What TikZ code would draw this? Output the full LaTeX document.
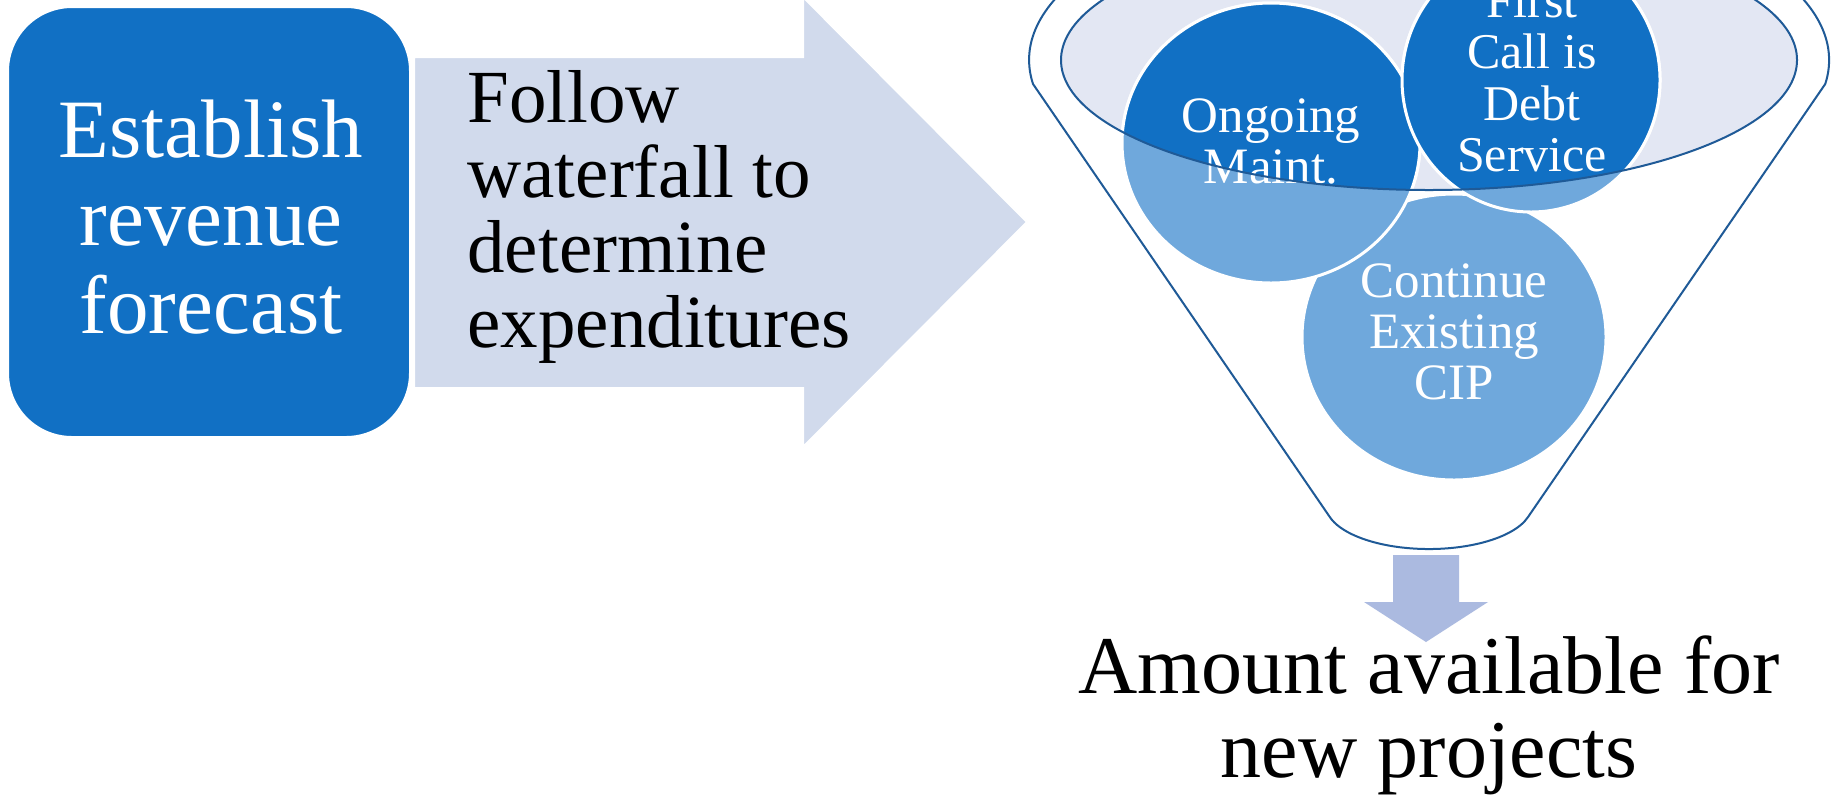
\documentclass[tikz,border=0pt]{standalone}
\usepackage{fontspec}
\setmainfont{Liberation Serif}
\definecolor{boxblue}{HTML}{1170C4}
\definecolor{arrowfill}{HTML}{D1DAEC}
\definecolor{rimfill}{HTML}{E3E7F3}
\definecolor{lightblue}{HTML}{6FA8DC}
\definecolor{funnelline}{HTML}{1F5A97}
\definecolor{downarrow}{HTML}{ABBAE0}
\begin{document}
\begin{tikzpicture}[x=0.5pt,y=-0.5pt,
  wtext/.style={text=white, inner sep=0pt, anchor=base},
  btext/.style={text=black, inner sep=0pt},
  circ/.style={draw=white, line width=1.5pt},
  fline/.style={draw=funnelline, line width=1pt}]
\useasboundingbox (0,0) rectangle (1839,794);
\fill[white] (0,0) rectangle (1839,794);
% right block arrow
\path[fill=arrowfill, draw=white, line width=1pt] (414,57) -- (803,57) -- (803,-3) -- (1027,222) -- (803,447) -- (803,388) -- (414,388) -- cycle;
% blue rounded box
\path[fill=boxblue, draw=white, line width=1pt, rounded corners=32pt] (8,7) rectangle (410,437);
\node[wtext] (establish) at (211,157) {\fontsize{41.5}{44}\selectfont\begin{tabular}[t]{@{}c@{}}Establish\\revenue\\forecast\end{tabular}};
\node[btext, anchor=base west] (follow) at (467,122) {\fontsize{37.5}{37.5}\selectfont\begin{tabular}[t]{@{}l@{}}Follow\\waterfall to\\determine\\expenditures\end{tabular}};
% funnel body
\path[fline, fill=white] (1033,84) arc[start angle=172, end angle=368, x radius=400, y radius=172] -- (1528,517) arc[start angle=15.8, end angle=164.2, x radius=103, y radius=44] -- cycle;
\fill[rimfill] (1429,60) ellipse[x radius=368, y radius=130];
% circles (light, below rim)
\path[fill=lightblue, circ] (1454,337) ellipse[x radius=152, y radius=143];
\path[fill=lightblue, circ] (1271,143) ellipse[x radius=149, y radius=140];
\path[fill=lightblue, circ] (1531,80) ellipse[x radius=129, y radius=132];
% circles (dark, inside rim)
\begin{scope}
\clip (1429,60) ellipse[x radius=368, y radius=130];
\path[fill=boxblue, circ] (1454,337) ellipse[x radius=152, y radius=143];
\path[fill=boxblue, circ] (1271,143) ellipse[x radius=149, y radius=140];
\path[fill=boxblue, circ] (1531,80) ellipse[x radius=129, y radius=132];
\end{scope}
\node[wtext] (cip) at (1454,297) {\fontsize{25.5}{25.5}\selectfont\begin{tabular}[t]{@{}c@{}}Continue\\Existing\\CIP\end{tabular}};
\node[wtext] (maint) at (1271,132) {\fontsize{25.5}{25.5}\selectfont\begin{tabular}[t]{@{}c@{}}Ongoing\\Maint.\end{tabular}};
\node[wtext] (debt) at (1532,17) {\fontsize{25}{25.8}\selectfont\begin{tabular}[t]{@{}c@{}}First\\Call is\\Debt\\Service\end{tabular}};
% rim outline
\path[fline] (1429,60) ellipse[x radius=368, y radius=130];
% down arrow
\fill[downarrow] (1393,555) -- (1459,555) -- (1459,602) -- (1488,602) -- (1426,642) -- (1364,602) -- (1393,602) -- cycle;
\node[btext, anchor=base] (amount) at (1429,693) {\fontsize{41}{42}\selectfont\begin{tabular}[t]{@{}c@{}}Amount available for\\new projects\end{tabular}};
\end{tikzpicture}
\end{document}
